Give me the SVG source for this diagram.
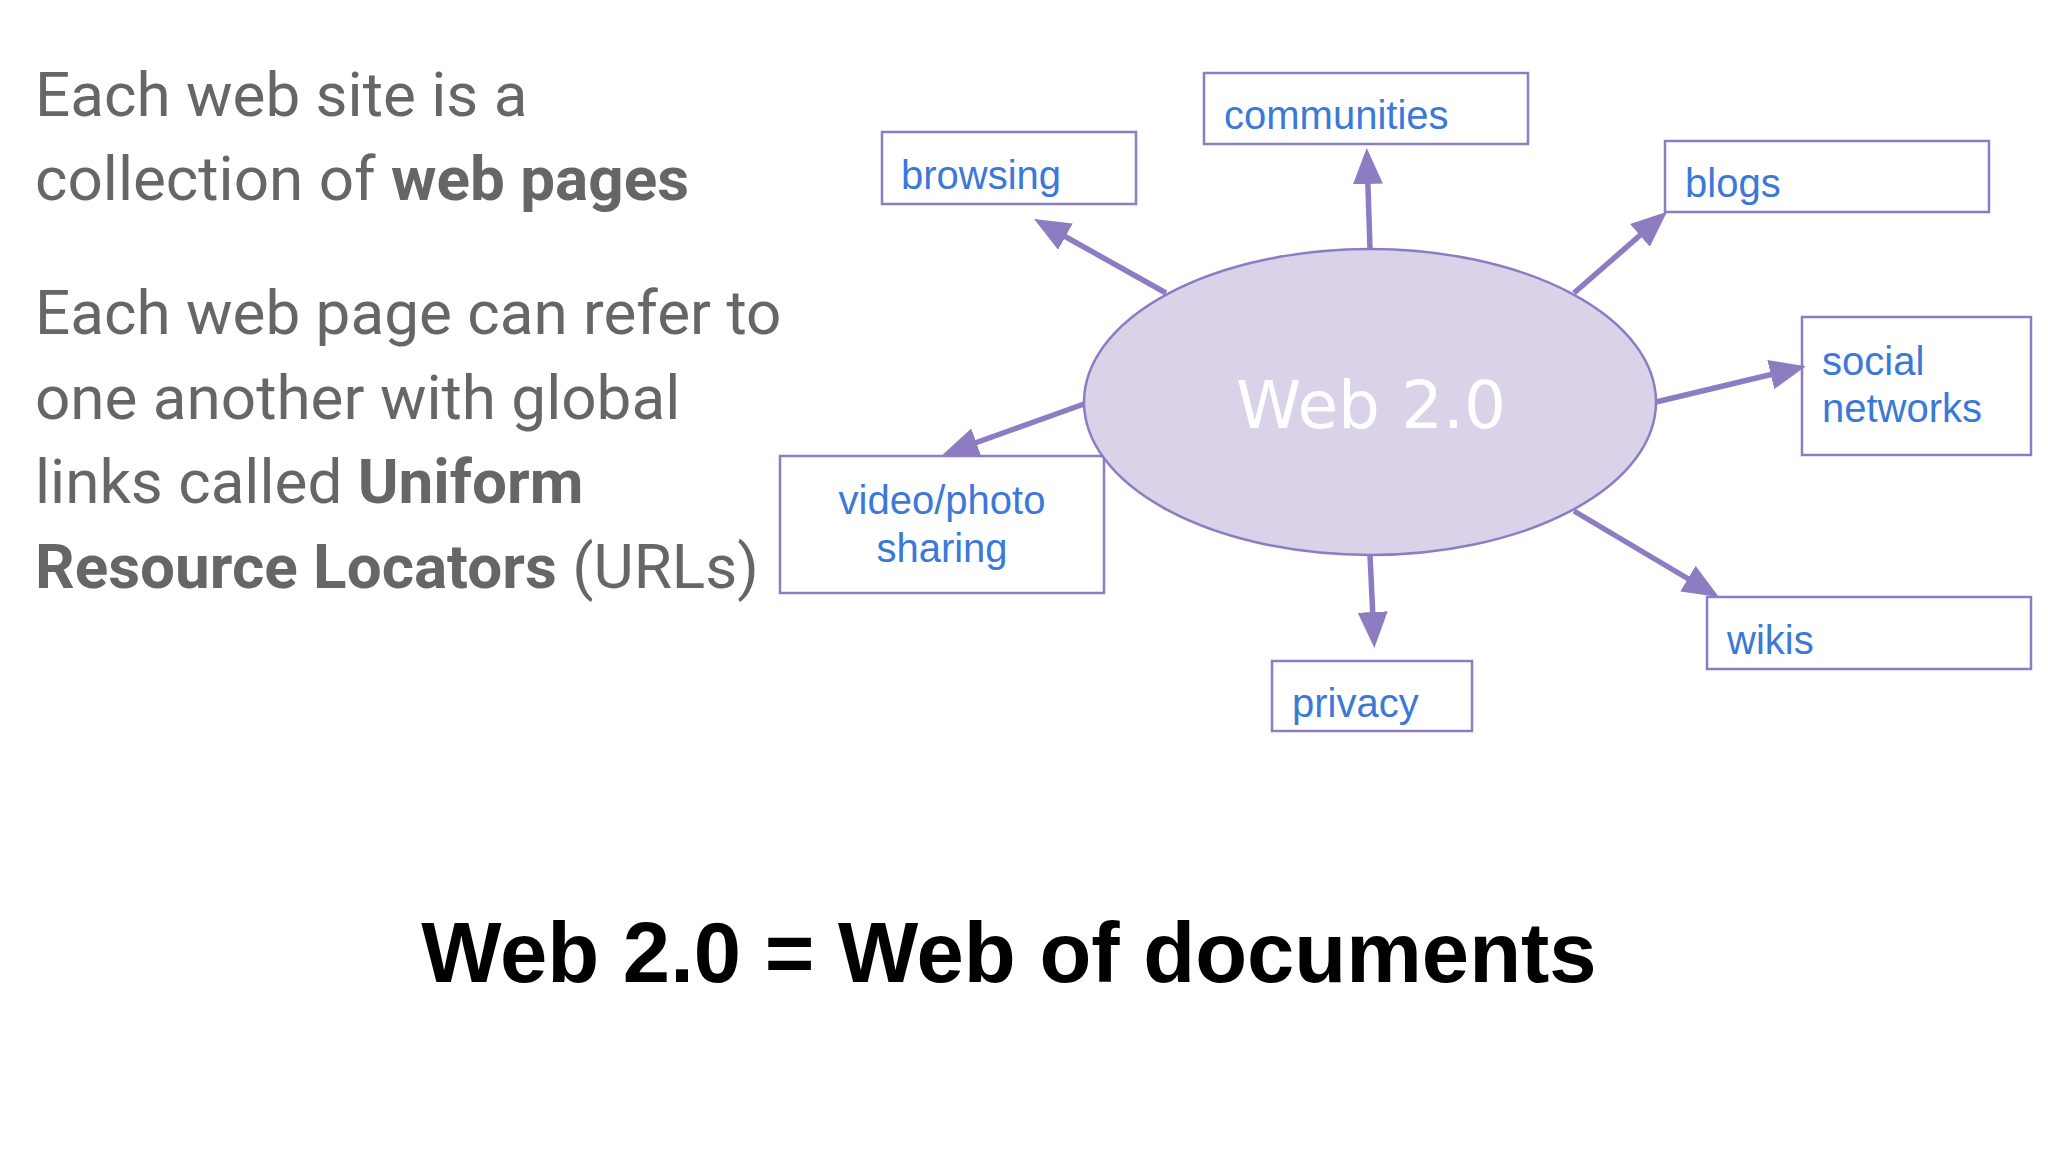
<svg xmlns="http://www.w3.org/2000/svg" width="2048" height="1152" viewBox="0 0 2048 1152">
<style>
.body{font-family:Roboto,"Liberation Sans",sans-serif;font-size:62px;fill:#666666}
.b{font-weight:bold}
.box{fill:#ffffff;stroke:#8e7cc3;stroke-width:2.5}
.lbl{font-family:"Liberation Sans",Arial,sans-serif;font-size:40px;fill:#3c78d8}
.conn{stroke:#8e7cc3;stroke-width:5.5;fill:none}
.title{font-family:"Liberation Sans",Arial,sans-serif;font-size:85px;font-weight:bold;fill:#000000}
</style>
<defs>
<marker id="ah" markerUnits="userSpaceOnUse" markerWidth="40" markerHeight="34" refX="28" refY="15" orient="auto">
<path d="M0,0 L36,15 L0,30 z" fill="#8e7cc3"/>
</marker>
</defs>
<rect width="2048" height="1152" fill="#ffffff"/>
<g id="left-text">
<text class="body" x="35" y="116">Each web site is a</text>
<text class="body" x="35" y="200">collection of <tspan class="b">web pages</tspan></text>
<text class="body" x="35" y="334">Each web page can refer to</text>
<text class="body" x="35" y="419">one another with global</text>
<text class="body" x="35" y="503">links called <tspan class="b">Uniform</tspan></text>
<text class="body" x="35" y="588"><tspan class="b">Resource Locators</tspan> (URLs)</text>
</g>
<g id="video">
<rect class="box" x="780" y="456" width="324" height="137"/>
<text class="lbl" x="942" y="514" text-anchor="middle">video/photo</text>
<text class="lbl" x="942" y="562" text-anchor="middle">sharing</text>
</g>
<g id="browsing">
<rect class="box" x="882" y="132" width="254" height="72"/>
<text class="lbl" x="901" y="189">browsing</text>
</g>
<g id="communities">
<rect class="box" x="1204" y="73" width="324" height="71"/>
<text class="lbl" x="1224" y="129">communities</text>
</g>
<g id="blogs">
<rect class="box" x="1665" y="141" width="324" height="71"/>
<text class="lbl" x="1685" y="197">blogs</text>
</g>
<g id="social">
<rect class="box" x="1802" y="317" width="229" height="138"/>
<text class="lbl" x="1822" y="375">social</text>
<text class="lbl" x="1822" y="422">networks</text>
</g>
<g id="wikis">
<rect class="box" x="1707" y="597" width="324" height="72"/>
<text class="lbl" x="1727" y="654">wikis</text>
</g>
<g id="privacy">
<rect class="box" x="1272" y="661" width="200" height="70"/>
<text class="lbl" x="1292" y="717">privacy</text>
</g>
<g id="connectors">
<line class="conn" x1="1166" y1="293" x2="1041" y2="223" marker-end="url(#ah)"/>
<line class="conn" x1="1370" y1="249" x2="1367" y2="156" marker-end="url(#ah)"/>
<line class="conn" x1="1574" y1="293" x2="1661" y2="217" marker-end="url(#ah)"/>
<line class="conn" x1="1656" y1="402" x2="1798" y2="368" marker-end="url(#ah)"/>
<line class="conn" x1="1084" y1="404" x2="950" y2="452" marker-end="url(#ah)"/>
<line class="conn" x1="1370" y1="555" x2="1374" y2="640" marker-end="url(#ah)"/>
<line class="conn" x1="1574" y1="511" x2="1712" y2="593" marker-end="url(#ah)"/>
</g>
<g id="web20">
<ellipse cx="1370" cy="402" rx="286" ry="153" fill="#d9d2e9" stroke="#8e7cc3" stroke-width="2.5"/>
<text x="1371" y="428" text-anchor="middle" font-family="'Comic Sans MS','DejaVu Sans',sans-serif" font-size="66" fill="#ffffff">Web 2.0</text>
</g>
<g id="title">
<text class="title" x="1009" y="982" text-anchor="middle">Web 2.0 = Web of documents</text>
</g>
</svg>
